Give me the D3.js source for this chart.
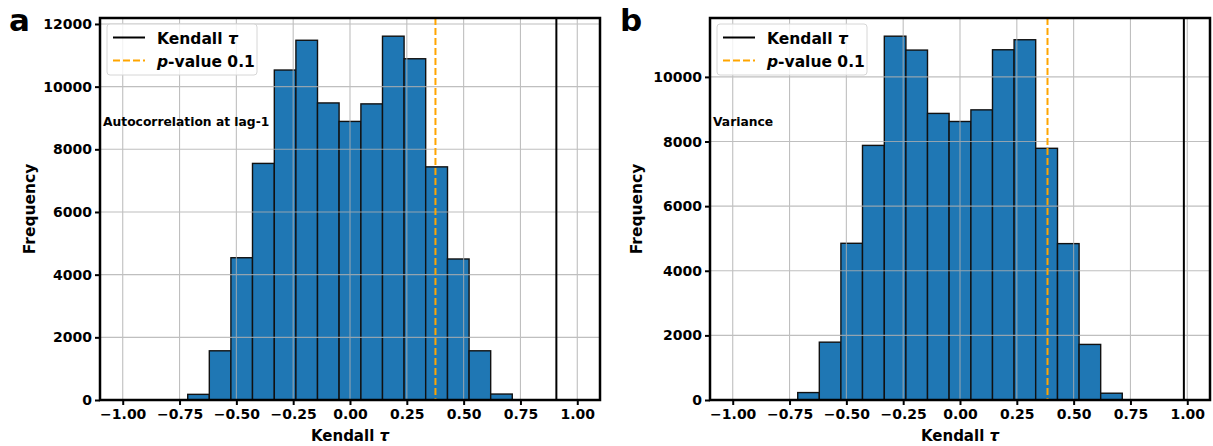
<!DOCTYPE html>
<html>
<head>
<meta charset="utf-8">
<script src="https://cdn.jsdelivr.net/npm/d3@7"></script>
<style>
  html, body { margin: 0; padding: 0; background: #fff; }
  svg { display: block; font-family: "DejaVu Sans", sans-serif; }
</style>
</head>
<body>
<svg id="chart" width="1213" height="446"></svg>
<script>
// Histogram bin edges shared by both panels (15 equal bins)
const binEdges = [-0.714, -0.619, -0.524, -0.429, -0.333, -0.238, -0.143, -0.048,
                  0.048, 0.143, 0.238, 0.333, 0.429, 0.524, 0.619, 0.714];

// Counts per bin for the lag-1 autocorrelation indicator
const countsAutocorr = [180, 1570, 4540, 7550, 10530, 11480, 9480, 8890,
                        9450, 11610, 10890, 7440, 4500, 1570, 190];
// Counts per bin for the variance indicator
const countsVariance = [230, 1790, 4850, 7880, 11260, 10830, 8870, 8620,
                        8980, 10840, 11150, 7790, 4840, 1720, 210];

const xTicks = [-1.0, -0.75, -0.5, -0.25, 0.0, 0.25, 0.5, 0.75, 1.0];
const yTicksA = [0, 2000, 4000, 6000, 8000, 10000, 12000];
const yTicksB = [0, 2000, 4000, 6000, 8000, 10000];

// Observed Kendall tau and the p = 0.1 threshold for each panel
const kendallTau = [0.908, 0.985];
const pThreshold = [0.376, 0.385];

const panelLetters = ["a", "b"];
const panelTitles = ["Autocorrelation at lag-1", "Variance"];

const svg = d3.select("#chart");

const panels = [
  { left: 100, counts: countsAutocorr, yTicks: yTicksA, letter: panelLetters[0], title: panelTitles[0], tau: kendallTau[0], p: pThreshold[0], letterX: 9, ylabX: 30 },
  { left: 710, counts: countsVariance, yTicks: yTicksB, letter: panelLetters[1], title: panelTitles[1], tau: kendallTau[1], p: pThreshold[1], letterX: 620, ylabX: 637 }
];

const plotTop = 18, plotBottom = 400, plotWidth = 500;
const fmtX = d => d3.format(".2f")(d).replace("-", "\u2212");

// "Kendall τ" with the Greek letter set in bold italic
function kendallLabel(sel) {
  sel.append("tspan").text("Kendall ");
  sel.append("tspan").attr("font-style", "italic").text("\u03c4");
}

panels.forEach(p => {
  const x = d3.scaleLinear().domain([-1.1, 1.1]).range([p.left, p.left + plotWidth]);
  const yMax = d3.max(p.counts) * 1.05;
  const y = d3.scaleLinear().domain([0, yMax]).range([plotBottom, plotTop]);

  const g = svg.append("g");

  // bars
  const bins = p.counts.map((c, i) => ({ x0: binEdges[i], x1: binEdges[i + 1], c }));
  g.append("g").selectAll("rect").data(bins).join("rect")
    .attr("x", d => x(d.x0))
    .attr("y", d => y(d.c))
    .attr("width", d => x(d.x1) - x(d.x0))
    .attr("height", d => y(0) - y(d.c))
    .attr("fill", "#1f77b4")
    .attr("stroke", "#111")
    .attr("stroke-width", 1.4);

  // grid drawn over the bars
  const grid = g.append("g").attr("stroke", "#b0b0b0").attr("stroke-width", 1.1).attr("opacity", 0.8);
  grid.selectAll(".gx").data(xTicks).join("line")
    .attr("x1", d => x(d)).attr("x2", d => x(d))
    .attr("y1", plotTop).attr("y2", plotBottom);
  grid.selectAll(".gy").data(p.yTicks).join("line")
    .attr("x1", p.left).attr("x2", p.left + plotWidth)
    .attr("y1", d => y(d)).attr("y2", d => y(d));

  // reference lines
  g.append("line")
    .attr("x1", x(p.tau)).attr("x2", x(p.tau))
    .attr("y1", plotTop).attr("y2", plotBottom)
    .attr("stroke", "#000").attr("stroke-width", 2);
  g.append("line")
    .attr("x1", x(p.p)).attr("x2", x(p.p))
    .attr("y1", plotTop).attr("y2", plotBottom)
    .attr("stroke", "#ffa500").attr("stroke-width", 2)
    .attr("stroke-dasharray", "7,3");

  // axes
  const xAxis = d3.axisBottom(x).tickValues(xTicks).tickFormat(fmtX).tickSize(5).tickPadding(4);
  const gx = g.append("g").attr("transform", `translate(0,${plotBottom})`).call(xAxis);
  const yAxis = d3.axisLeft(y).tickValues(p.yTicks).tickFormat(d3.format("d")).tickSize(5).tickPadding(3);
  const gy = g.append("g").attr("transform", `translate(${p.left},0)`).call(yAxis);
  [gx, gy].forEach(a => {
    a.select(".domain").remove();
    a.selectAll(".tick line").attr("stroke", "#000").attr("stroke-width", 2);
    a.selectAll(".tick text").attr("fill", "#000").attr("font-size", 14)
      .attr("font-weight", "bold").attr("font-family", "DejaVu Sans");
  });

  // frame
  g.append("rect")
    .attr("x", p.left).attr("y", plotTop)
    .attr("width", plotWidth).attr("height", plotBottom - plotTop)
    .attr("fill", "none").attr("stroke", "#000").attr("stroke-width", 2.5);

  // axis labels
  g.append("text")
    .attr("x", p.left + plotWidth / 2).attr("y", 441)
    .attr("text-anchor", "middle").attr("font-size", 15).attr("font-weight", "bold")
    .call(kendallLabel);
  g.append("text")
    .attr("transform", `translate(${p.ylabX + 5},${(plotTop + plotBottom) / 2}) rotate(-90)`)
    .attr("text-anchor", "middle").attr("font-size", 15.5).attr("font-weight", "bold")
    .text("Frequency");

  // panel letter
  g.append("text")
    .attr("x", p.letterX).attr("y", 31)
    .attr("font-size", 31).attr("font-weight", "bold")
    .text(p.letter);

  // indicator name
  g.append("text")
    .attr("x", p.left + 3).attr("y", 126)
    .attr("font-size", 12.3).attr("font-weight", "bold")
    .text(p.title);

  // legend
  const lg = g.append("g").attr("transform", `translate(${p.left + 7},24)`);
  lg.append("rect")
    .attr("width", 150).attr("height", 51).attr("rx", 3)
    .attr("fill", "#fff").attr("fill-opacity", 0.8)
    .attr("stroke", "#d6d6d6").attr("stroke-width", 1);
  lg.append("line").attr("x1", 6).attr("x2", 38).attr("y1", 13.5).attr("y2", 13.5)
    .attr("stroke", "#000").attr("stroke-width", 2);
  lg.append("line").attr("x1", 6).attr("x2", 38).attr("y1", 36.5).attr("y2", 36.5)
    .attr("stroke", "#ffa500").attr("stroke-width", 2).attr("stroke-dasharray", "7,3");
  lg.append("text").attr("x", 50).attr("y", 19.5)
    .attr("font-size", 15.5).attr("font-weight", "bold").call(kendallLabel);
  const t2 = lg.append("text").attr("x", 50).attr("y", 42.5)
    .attr("font-size", 15.5).attr("font-weight", "bold");
  t2.append("tspan").attr("font-style", "italic").text("p");
  t2.append("tspan").text("-value 0.1");
});
</script>
</body>
</html>
